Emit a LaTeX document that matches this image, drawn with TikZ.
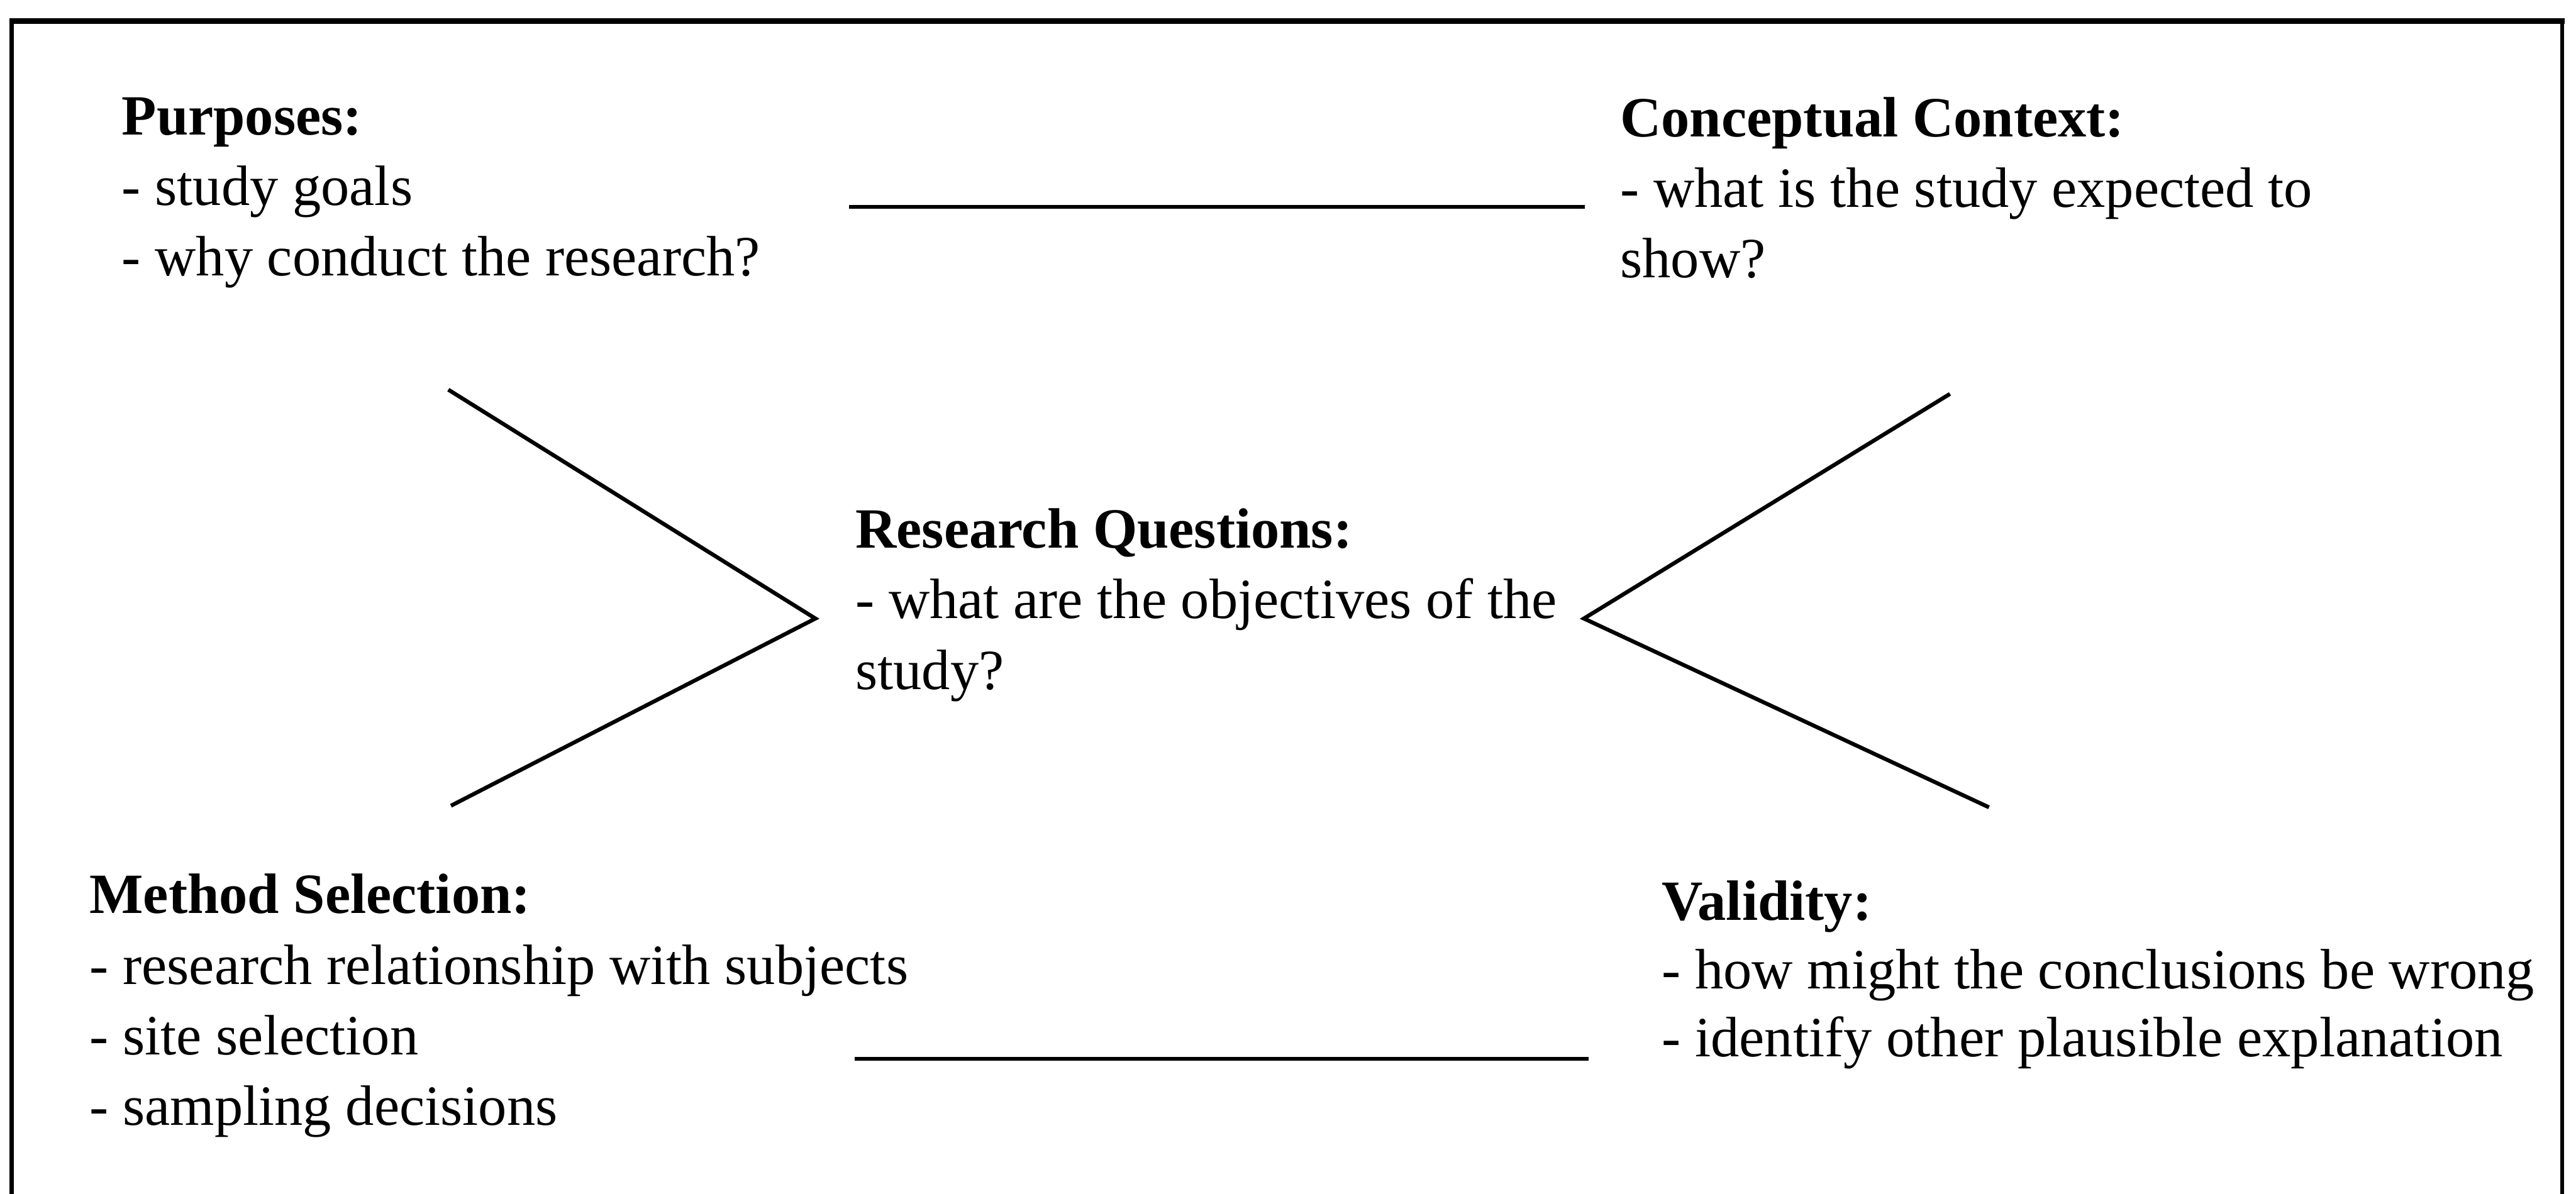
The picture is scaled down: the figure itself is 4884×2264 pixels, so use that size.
\documentclass[tikz,border=0pt]{standalone}
\usepackage{fontspec}
\setmainfont{Liberation Serif}
\begin{document}
\begin{tikzpicture}[x=0.1mm, y=-0.1mm,
  every node/.style={inner sep=0pt, outer sep=0pt},
  % blocks are placed by the baseline of their last line
  block/.style={anchor=base west, align=left,
    font=\fontsize{30.7}{38.1}\selectfont},
  tightblock/.style={block, font=\fontsize{30.7}{36.8}\selectfont},
  link/.style={line width=0.75mm, line cap=butt, line join=miter},
  frame/.style={line width=0.75mm},
  frametop/.style={line width=1.1mm}]
\useasboundingbox (0,0) rectangle (4884,2264);

% open frame: sides and a heavier top edge
\draw[frame] (22,2300) -- (22,40);
\draw[frame] (4858,40) -- (4858,2300);
\draw[frametop] (18,40) -- (4862,40);

% text blocks
\node[block] (purp) at (231,523)
  {\textbf{Purposes:}\\- study goals\\- why conduct the research?};
\node[block] (conc) at (3072,527)
  {\textbf{Conceptual Context:}\\- what is the study expected to\\show?};
\node[block] (rq) at (1622,1307)
  {\textbf{Research Questions:}\\- what are the objectives of the\\study?};
\node[block] (meth) at (170,2134)
  {\textbf{Method Selection:}\\- research relationship with subjects\\- site selection\\- sampling decisions};
\node[tightblock] (valid) at (3151,2004)
  {\textbf{Validity:}\\- how might the conclusions be wrong\\- identify other plausible explanation};

% connector end points
\coordinate (topL) at (1610,392);
\coordinate (topR) at (3005,392);
\coordinate (botL) at (1620,2008);
\coordinate (botR) at (3012,2008);
\coordinate (lchevT) at (850,739);
\coordinate (lchevA) at (1546,1173);
\coordinate (lchevB) at (855,1528);
\coordinate (rchevT) at (3697,747);
\coordinate (rchevA) at (3003,1173);
\coordinate (rchevB) at (3771,1531);

% connectors
\draw[link] (topL) -- (topR);
\draw[link] (botL) -- (botR);
\draw[link] (lchevT) -- (lchevA) -- (lchevB);
\draw[link] (rchevT) -- (rchevA) -- (rchevB);
\end{tikzpicture}
\end{document}
